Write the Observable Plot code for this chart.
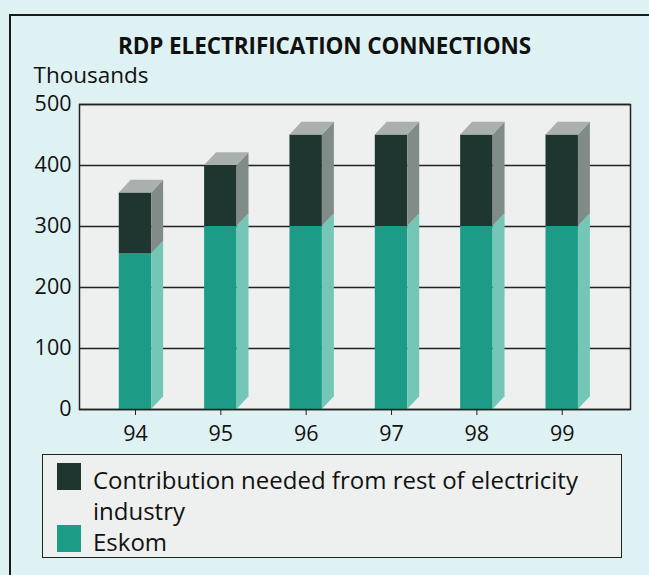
<!DOCTYPE html>
<html><head><meta charset="utf-8">
<script src="https://cdn.jsdelivr.net/npm/d3@7"></script>
<script src="https://cdn.jsdelivr.net/npm/@observablehq/plot@0.6"></script>
<style>
html,body{margin:0;padding:0;background:#dff2f3;}
#wrap{position:relative;width:649px;height:575px;background:#dff2f3;overflow:hidden;font-family:"Open Sans",sans-serif;color:#111;}
#border{position:absolute;left:9px;top:14px;width:700px;height:700px;border-top:2px solid #1a1a1a;border-left:2px solid #1a1a1a;}
#title{position:absolute;top:32px;left:0;width:649px;text-align:center;font-weight:700;font-size:22.5px;line-height:28px;letter-spacing:-0.1px;}
#chart{position:absolute;left:0;top:60px;}
#legend{position:absolute;left:42px;top:454px;width:578px;height:102px;border:1.5px solid #222;background:#edf0ef;}
.sw{position:absolute;left:14px;width:24px;height:27px;}
.lt{position:absolute;left:50px;font-size:24px;line-height:31px;white-space:nowrap;}
</style></head>
<body><div id="wrap">
<div id="border"></div>
<div id="title">RDP ELECTRIFICATION CONNECTIONS</div>
<div id="chart"></div>
<div id="legend"></div>
</div>
<script>
const years = [94, 95, 96, 97, 98, 99];
const eskom = [255, 300, 300, 300, 300, 300];
const contribution = [100, 100, 150, 150, 150, 150];
const yTicks = [0, 100, 200, 300, 400, 500];
const seriesNames = ["Contribution needed from rest of electricity industry", "Eskom"];
const colors = {
  eskomFront: "#1c9c87", eskomSide: "#74c6b6",
  contFront: "#1f3530", contSide: "#818b88", contTop: "#a9b0ae"
};

const W = 0.19;      // half bar width (years)
const DX = 0.14;     // depth in x (years)
const DY = 21;       // depth in y (thousands)

const fronts = [];
const sidesE = [], sidesC = [], tops = [];
years.forEach((yr, i) => {
  const e = eskom[i], t = eskom[i] + contribution[i];
  fronts.push({x1: yr - W, x2: yr + W, y1: 0, y2: e, s: "E"});
  fronts.push({x1: yr - W, x2: yr + W, y1: e, y2: t, s: "C"});
  sidesE.push({id: i, x: yr + W, y1: 0, y2: e}, {id: i, x: yr + W + DX, y1: DY, y2: e + DY});
  sidesC.push({id: i, x: yr + W, y1: e, y2: t}, {id: i, x: yr + W + DX, y1: e + DY, y2: t + DY});
  tops.push({id: i, y: t, x1: yr - W, x2: yr + W}, {id: i, y: t + DY, x1: yr - W + DX, x2: yr + W + DX});
});

const plot = Plot.plot({
  width: 649, height: 390,
  marginLeft: 79, marginRight: 19, marginTop: 44, marginBottom: 41,
  style: {fontFamily: "'Open Sans', sans-serif", fontSize: "21px", color: "#111", background: "transparent"},
  x: {type: "linear", domain: [93.344, 99.80]},
  y: {domain: [0, 500]},
  marks: [
    Plot.frame({fill: "#edf0ef"}),
    Plot.gridY(yTicks, {stroke: "#222", strokeOpacity: 1, strokeWidth: 1.3}),
    Plot.rectY(fronts, {x1: "x1", x2: "x2", y1: "y1", y2: "y2", fill: d => d.s === "E" ? colors.eskomFront : colors.contFront}),
    Plot.areaY(sidesE, {x: "x", y1: "y1", y2: "y2", z: "id", fill: colors.eskomSide}),
    Plot.areaY(sidesC, {x: "x", y1: "y1", y2: "y2", z: "id", fill: colors.contSide}),
    Plot.areaX(tops, {y: "y", x1: "x1", x2: "x2", z: "id", fill: colors.contTop}),
    Plot.frame({stroke: "#222", strokeWidth: 1.5}),
    Plot.axisY(yTicks, {tickSize: 0, tickPadding: 8, label: null, fontSize: 21.5}),
    Plot.axisX(years, {tickSize: 6, tickPadding: 10, label: null, fontSize: 21.5, stroke: "#222"}),
    Plot.text(["Thousands"], {frameAnchor: "top-left", dx: -46, dy: -29, lineAnchor: "middle", text: d => d, fontSize: 22.5, textAnchor: "start"})
  ]
});
document.getElementById("chart").appendChild(plot);

const legend = document.getElementById("legend");
legend.innerHTML = `
  <div class="sw" style="top:8px;background:${colors.contFront}"></div>
  <div class="lt" style="top:9px">Contribution needed from rest of electricity<br>industry</div>
  <div class="sw" style="top:70px;background:${colors.eskomFront}"></div>
  <div class="lt" style="top:71px">${seriesNames[1]}</div>`;
</script>
</body></html>
